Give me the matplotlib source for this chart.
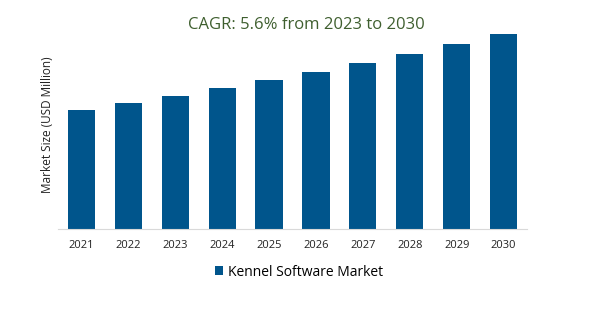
import matplotlib.pyplot as plt

years = ["2021", "2022", "2023", "2024", "2025", "2026", "2027", "2028", "2029", "2030"]
market_size = [119, 126, 133, 141, 149, 157, 166, 175, 185, 195]
series_name = "Kennel Software Market"
title = "CAGR: 5.6% from 2023 to 2030"
ylabel = "Market Size (USD Million)"

plt.rcParams['font.family'] = ['Open Sans', 'DejaVu Sans']

fig = plt.figure(figsize=(5.97, 3.22), dpi=100)
ax = fig.add_axes([58 / 597, 93 / 322, 469 / 597, 209 / 322])

ax.bar(years, market_size, width=0.58, color="#00558C", label=series_name)
ax.set_ylim(0, 209)
ax.set_xlim(-0.5, 9.5)

for side in ["top", "right", "left"]:
    ax.spines[side].set_visible(False)
ax.spines["bottom"].set_color("#D9D9D9")
ax.set_yticks([])
ax.tick_params(axis="x", length=0, labelsize=8, pad=8, colors="#222222")
ax.set_ylabel(ylabel, fontsize=8.5, color="#222222", labelpad=3)

fig.text(0.514, 0.922, title, ha="center", va="center", fontsize=12, color="#3F5F2F")

leg = fig.legend(loc="center", bbox_to_anchor=(0.501, 0.155), frameon=False,
                 fontsize=10, handlelength=0.6, handleheight=0.6, handletextpad=0.4)

fig.savefig("out.png", dpi=100)
